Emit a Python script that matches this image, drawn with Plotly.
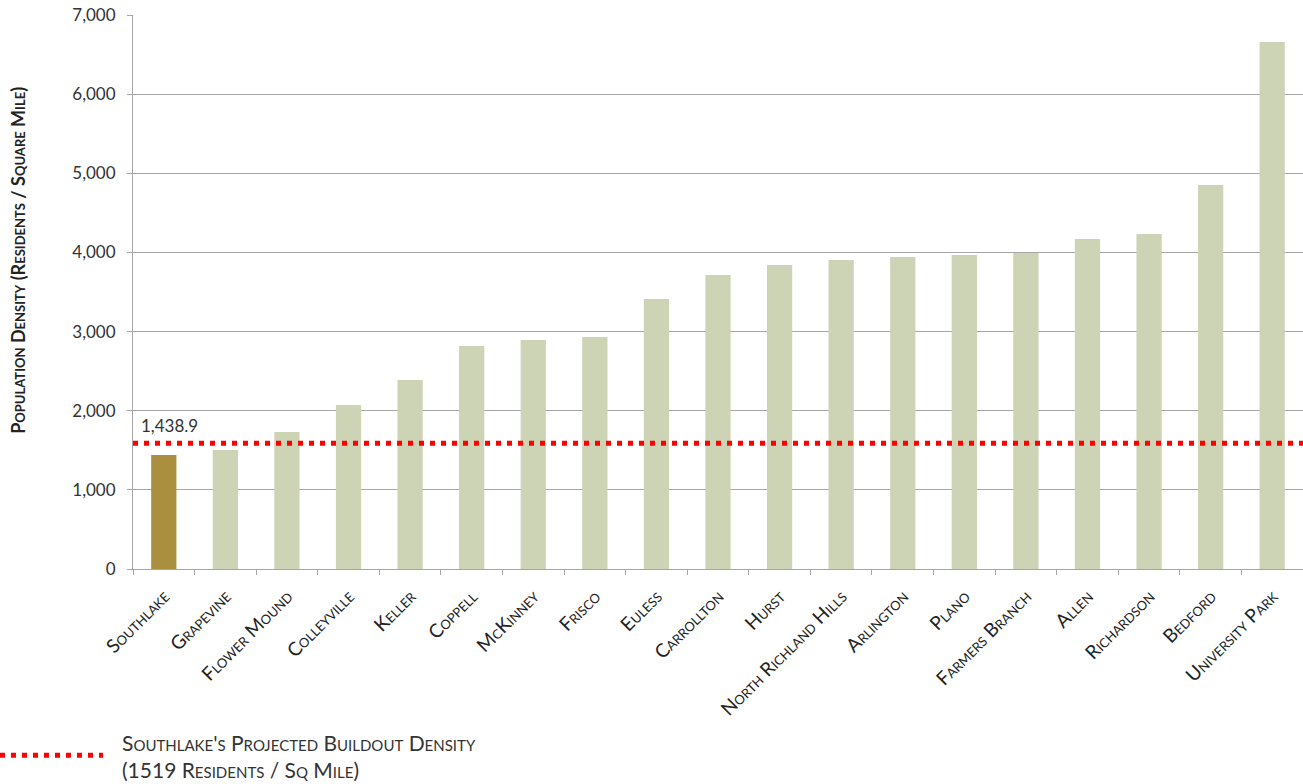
import plotly.graph_objects as go

cities = ["Southlake", "Grapevine", "Flower Mound", "Colleyville", "Keller", "Coppell",
          "McKinney", "Frisco", "Euless", "Carrollton", "Hurst", "North Richland Hills",
          "Arlington", "Plano", "Farmers Branch", "Allen", "Richardson", "Bedford",
          "University Park"]
density = [1438.9, 1504, 1731, 2072, 2388, 2818, 2894, 2932, 3412, 3715, 3841, 3904,
           3942, 3968, 3993, 4170, 4233, 4852, 6659]
buildout_line = 1590
buildout_label = 1519
highlight = "Southlake"

colors = ["#AA8F3E" if c == highlight else "#CDD3B5" for c in cities]
FONT = "Lato, 'Open Sans', sans-serif"

fig = go.Figure()
fig.add_trace(go.Bar(x=cities, y=density, marker=dict(color=colors, line=dict(width=0)),
                     showlegend=False, hoverinfo="x+y"))

fig.add_shape(type="line", xref="paper", x0=0, x1=1, yref="y",
              y0=buildout_line, y1=buildout_line,
              line=dict(color="#FF0000", width=5, dash="5px,6px"))

fig.add_annotation(x=cities[0], y=density[0], text=f"{density[0]:,.1f}", showarrow=False,
                   yshift=30, xshift=6, font=dict(family=FONT, size=17, color="#333333"))

# y-axis title
fig.add_annotation(xref="paper", yref="paper", x=-0.0983, y=0.558, textangle=-90,
                   showarrow=False, xanchor="center", yanchor="middle",
                   text="<b>Population Density (Residents / Square Mile)</b>",
                   font=dict(family=FONT, size=18, color="#222222", variant="small-caps"))

# legend replica
fig.add_shape(type="line", xref="paper", yref="paper", x0=-0.1137, x1=-0.0256,
              y0=-0.336, y1=-0.336, line=dict(color="#FF0000", width=5, dash="5px,6px"))
fig.add_annotation(xref="paper", yref="paper", x=-0.0111, y=-0.3375, xanchor="left",
                   yanchor="middle", showarrow=False, align="left",
                   text=f"Southlake's Projected Buildout Density<br>({buildout_label} Residents / Sq Mile)",
                   font=dict(family=FONT, size=21, color="#333333", variant="small-caps"))

fig.update_layout(
    width=1303, height=784,
    margin=dict(l=133, r=0, t=15, b=215, autoexpand=False),
    plot_bgcolor="white", paper_bgcolor="white",
    bargap=0.59,
    font=dict(family=FONT, color="#333333"),
    xaxis=dict(tickangle=-45, tickson="boundaries", ticks="outside", ticklen=5,
               tickcolor="#A6A6A6", showline=True, linecolor="#A6A6A6", linewidth=1,
               automargin=False, ticklabelstandoff=8,
               tickfont=dict(family=FONT, size=19, color="#222222", variant="small-caps"),
               showgrid=False),
    yaxis=dict(range=[0, 7000], dtick=1000, tickformat=",d", showgrid=True,
               gridcolor="#A6A6A6", gridwidth=1, zeroline=False,
               showline=True, linecolor="#A6A6A6", linewidth=1, automargin=False,
               ticks="outside", ticklen=5, tickcolor="#A6A6A6", ticklabelstandoff=8,
               tickfont=dict(family=FONT, size=17, color="#333333")),
)

fig.write_html("out.html", config={"displayModeBar": False},
               post_script="document.body.style.margin='0';document.body.style.overflow='hidden';")
